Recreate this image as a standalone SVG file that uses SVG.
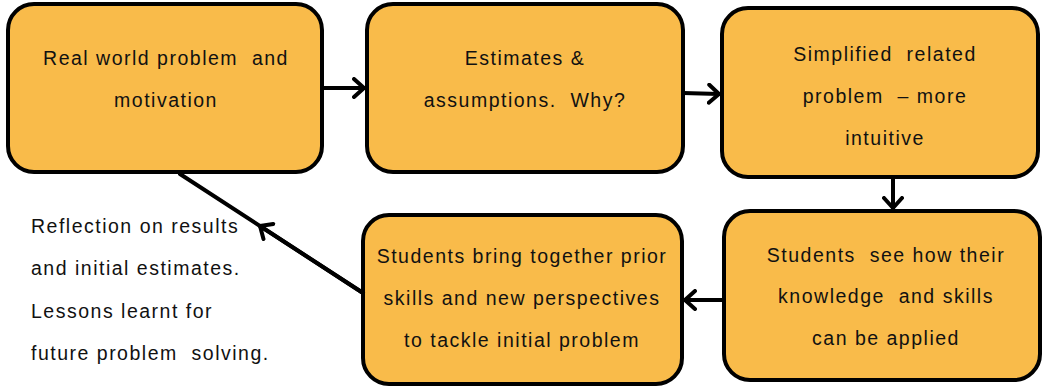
<svg xmlns="http://www.w3.org/2000/svg" width="1045" height="388" viewBox="0 0 1045 388" xml:space="preserve">
<defs>
<style>
.box{fill:#F9BB4A;stroke:#000;stroke-width:4}
.t{font-family:"Liberation Sans",Arial,sans-serif;font-size:19.5px;letter-spacing:1.5px;fill:#111;text-anchor:middle;white-space:pre}
.r{font-family:"Liberation Sans",Arial,sans-serif;font-size:19.5px;letter-spacing:1.5px;fill:#111;white-space:pre}
.c{fill:none;stroke:#000;stroke-width:4;stroke-linecap:round;stroke-linejoin:round}
</style>
<marker id="ah" viewBox="0 0 14 22" refX="12" refY="11" markerWidth="14" markerHeight="22" markerUnits="userSpaceOnUse" orient="auto">
<path d="M2,2 L12,11 L2,20" fill="none" stroke="#000" stroke-width="4" stroke-linecap="round" stroke-linejoin="round"/>
</marker>
</defs>
<rect width="1045" height="388" fill="#fff"/>
<g id="n1"><rect class="box" x="8" y="4" width="314" height="168" rx="26"/>
<text class="t" x="166" y="65">Real world problem  and</text>
<text class="t" x="166" y="107">motivation</text></g>
<g id="n2"><rect class="box" x="367" y="4" width="316" height="168" rx="26"/>
<text class="t" x="525" y="65">Estimates &amp;</text>
<text class="t" x="525" y="107">assumptions.  Why?</text></g>
<g id="n3"><rect class="box" x="722" y="8" width="316" height="169" rx="26"/>
<text class="t" x="885" y="61">Simplified  related</text>
<text class="t" x="885" y="103">problem  – more</text>
<text class="t" x="885" y="145">intuitive</text></g>
<g id="n4"><rect class="box" x="724" y="211" width="316" height="169" rx="26"/>
<text class="t" x="886" y="262">Students  see how their</text>
<text class="t" x="886" y="303">knowledge  and skills</text>
<text class="t" x="886" y="345">can be applied</text></g>
<g id="n5"><rect class="box" x="363" y="215" width="319" height="169" rx="26"/>
<text class="t" x="522" y="263">Students bring together prior</text>
<text class="t" x="522" y="305">skills and new perspectives</text>
<text class="t" x="522" y="347">to tackle initial problem</text></g>
<g id="label"><text class="r" x="31" y="233">Reflection on results</text>
<text class="r" x="31" y="275">and initial estimates.</text>
<text class="r" x="31" y="318">Lessons learnt for</text>
<text class="r" x="31" y="360">future problem  solving.</text></g>
<g id="connectors">
<path class="c" d="M322,88 L364,88" marker-end="url(#ah)"/>
<path class="c" d="M683,93 L719,94" marker-end="url(#ah)"/>
<path class="c" d="M893,177 L893,208" marker-end="url(#ah)"/>
<path class="c" d="M724,300 L685,300" marker-end="url(#ah)"/>
<path class="c" d="M363,293 L180,174"/>
<path class="c" d="M363,293 L260,226" marker-end="url(#ah)"/>
</g>
</svg>
